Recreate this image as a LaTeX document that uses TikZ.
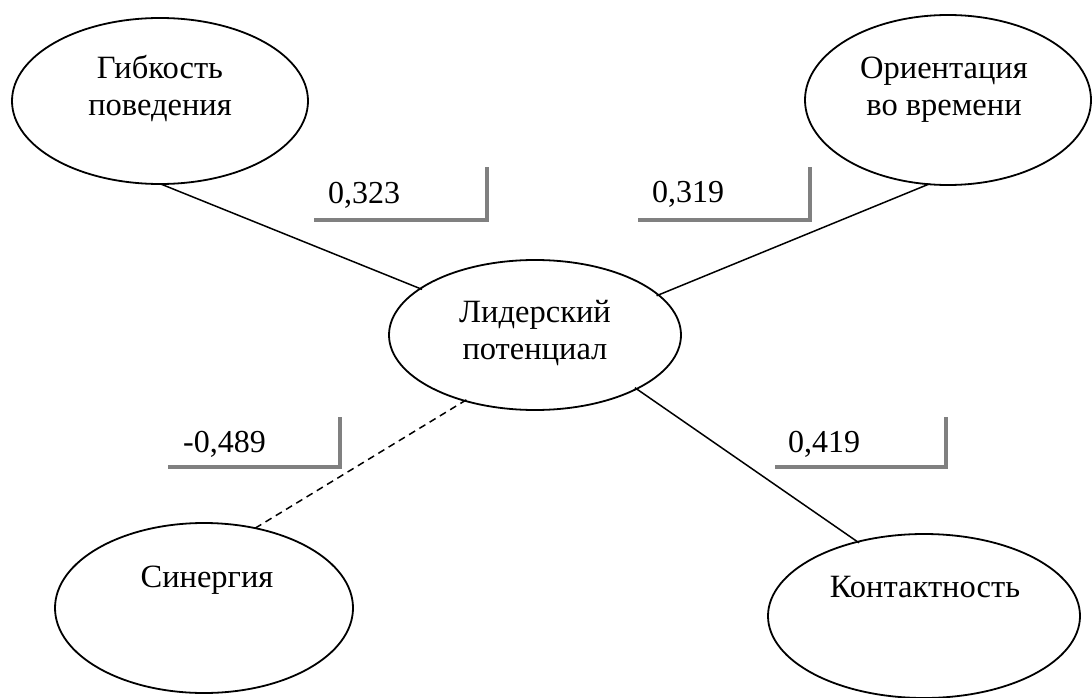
\documentclass[tikz,border=0pt]{standalone}
\usepackage{fontspec}
\setmainfont{Liberation Serif}
\usetikzlibrary{shapes.geometric}
\begin{document}
\begin{tikzpicture}[x=1pt,y=-1pt,
  oval/.style={draw=black, line width=1.8pt, ellipse, inner sep=0pt},
  txt/.style={font=\fontsize{32.5}{37}\selectfont, align=center, inner sep=0pt},
  lbl/.style={font=\fontsize{32}{37}\selectfont, inner sep=0pt},
  conn/.style={draw=black, line width=1.5pt, shorten <=-3pt, shorten >=-3pt},
  bracket/.style={draw=black!50, line width=4pt}]
\useasboundingbox[fill=white] (0,0) rectangle (1092,698);
% ellipses
\node[oval, minimum width=296pt, minimum height=166pt] (flex) at (160,101) {};
\node[oval, minimum width=286pt, minimum height=170pt] (orient) at (948,100) {};
\node[oval, minimum width=292pt, minimum height=150pt] (lead) at (535,335) {};
\node[oval, minimum width=298pt, minimum height=170pt] (syn) at (204,608) {};
\node[oval, minimum width=312pt, minimum height=164pt] (cont) at (924,616) {};
% texts
\node[txt] (flexT) at (160,89) {Гибкость\\поведения};
\node[txt] (orientT) at (944,90) {Ориентация\\во времени};
\node[txt] (leadT) at (535,333) {Лидерский\\потенциал};
\node[txt, anchor=base] (synT) at (207,587) {Синергия};
\node[txt, anchor=base] (contT) at (925,597) {Контактность};
% connectors
\draw[conn] (flex.-88) -- (lead.158);
\draw[conn] (orient.-104) -- (lead.18);
\draw[conn] (lead.-28) -- (cont.132);
\draw[conn, dash pattern=on 7pt off 5pt] (lead.-137) -- (syn.57);
% weight brackets
\draw[bracket] (314,220) -- (487,220) -- (487,167);
\draw[bracket] (638,220) -- (810,220) -- (810,167);
\draw[bracket] (168,467) -- (340,467) -- (340,417);
\draw[bracket] (775,467) -- (946,467) -- (946,417);
% weights
\node[lbl, anchor=base west] (w1) at (328,203) {0,323};
\node[lbl, anchor=base west] (w2) at (652,202) {0,319};
\node[lbl, anchor=base west] (w3) at (183,452) {-0,489};
\node[lbl, anchor=base west] (w4) at (788,452) {0,419};
\end{tikzpicture}
\end{document}
